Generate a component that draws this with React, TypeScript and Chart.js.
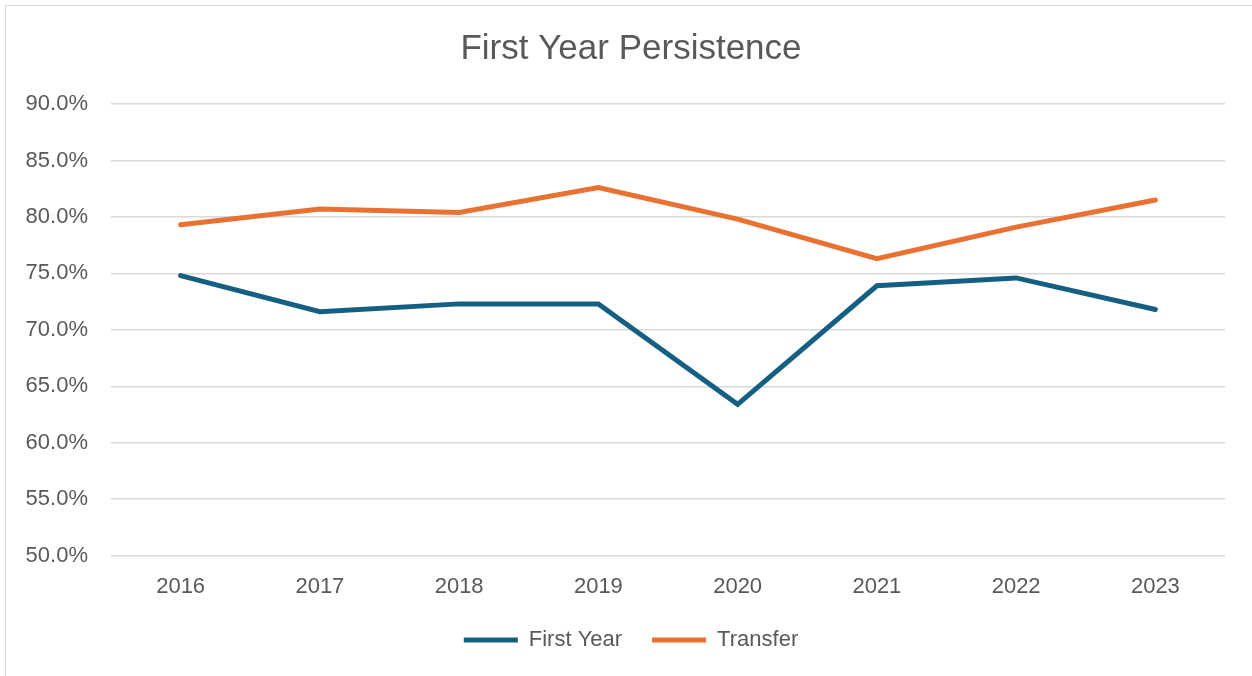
import React, { useEffect, useRef } from "react";
import { Chart, registerables } from "chart.js";

Chart.register(...registerables);

const years = ["2016", "2017", "2018", "2019", "2020", "2021", "2022", "2023"];
const firstYear = [74.8, 71.6, 72.3, 72.3, 63.4, 73.9, 74.6, 71.8];
const transfer = [79.3, 80.7, 80.4, 82.6, 79.8, 76.3, 79.1, 81.5];
const titleText = "First Year Persistence";
const seriesNames = ["First Year", "Transfer"];

const FONT = "'Liberation Sans', Arial, sans-serif";
const TEXT = "#595959";

export default function App() {
  const ref = useRef<HTMLCanvasElement | null>(null);

  useEffect(() => {
    if (!ref.current) return;
    const chart = new Chart(ref.current, {
      type: "line",
      data: {
        labels: years,
        datasets: [
          {
            label: seriesNames[0],
            data: firstYear,
            borderColor: "#156082",
            backgroundColor: "#156082",
            borderWidth: 5,
            pointRadius: 0,
            borderCapStyle: "round",
            borderJoinStyle: "miter",
            tension: 0,
            pointStyle: "line",
          },
          {
            label: seriesNames[1],
            data: transfer,
            borderColor: "#E97132",
            backgroundColor: "#E97132",
            borderWidth: 5,
            pointRadius: 0,
            borderCapStyle: "round",
            borderJoinStyle: "miter",
            tension: 0,
            pointStyle: "line",
          },
        ],
      },
      options: {
        responsive: false,
        animation: false,
        layout: { padding: { left: 20, right: 10, top: 0, bottom: 15 } },
        plugins: {
          title: {
            display: true,
            text: titleText,
            color: TEXT,
            font: { family: FONT, size: 35, weight: "normal" },
            padding: { top: 28, bottom: 34 },
          },
          legend: {
            display: true,
            position: "bottom",
            labels: {
              usePointStyle: true,
              pointStyleWidth: 54,
              color: TEXT,
              font: { family: FONT, size: 22 },
              padding: 30,
            },
          },
          tooltip: { enabled: false },
        },
        scales: {
          x: {
            offset: true,
            grid: { display: false, drawTicks: false },
            border: { display: false },
            ticks: {
              color: TEXT,
              font: { family: FONT, size: 22 },
              padding: 18,
              maxRotation: 0,
            },
            afterFit: (s: any) => {
              s.height = 43.3;
            },
          },
          y: {
            min: 50,
            max: 90,
            grid: { color: "#d9d9d9", lineWidth: 1.5, drawTicks: false },
            border: { display: false },
            ticks: {
              stepSize: 5,
              color: TEXT,
              font: { family: FONT, size: 22 },
              padding: 23,
              callback: (v: any) => Number(v).toFixed(1) + "%",
            },
            afterFit: (s: any) => {
              s.width = 91;
            },
          },
          yRight: {
            position: "right",
            display: true,
            grid: { display: false, drawTicks: false },
            border: { display: false },
            ticks: { display: false },
            afterFit: (s: any) => {
              s.width = 17;
            },
          },
        },
      },
    } as any);
    return () => chart.destroy();
  }, []);

  return (
    <div
      style={{
        position: "fixed",
        left: 0,
        top: 0,
        width: 1252,
        height: 676,
        background: "#fff",
        overflow: "hidden",
      }}
    >
      <div
        style={{
          position: "absolute",
          left: 5,
          top: 5,
          width: 1260,
          height: 700,
          border: "1.5px solid #d9d9d9",
          boxSizing: "border-box",
        }}
      />
      <canvas
        ref={ref}
        width={1252}
        height={676}
        style={{ position: "absolute", left: 0, top: 0, width: 1252, height: 676 }}
      />
    </div>
  );
}
